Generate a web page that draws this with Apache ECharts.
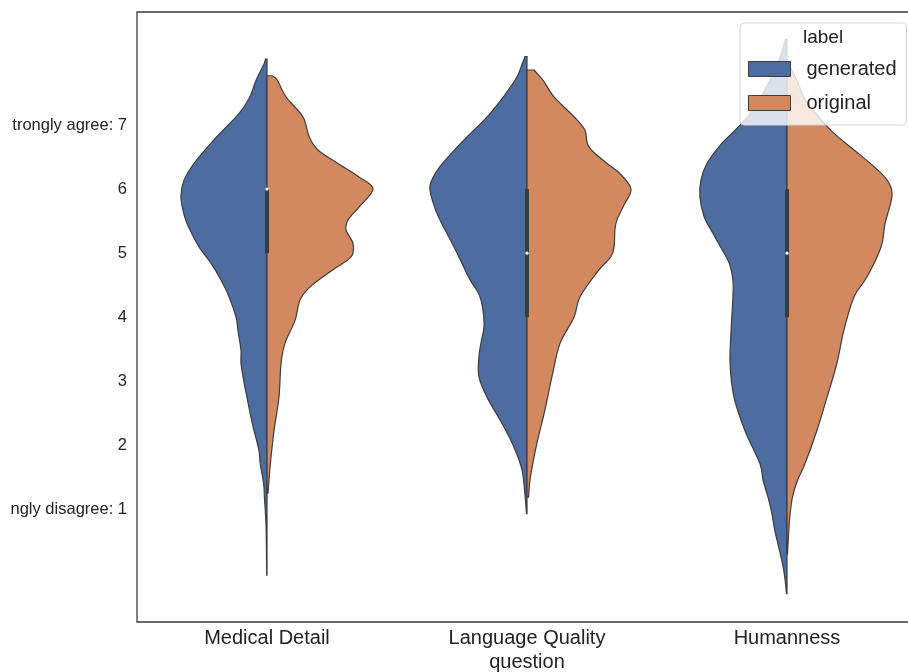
<!DOCTYPE html>
<html>
<head>
<meta charset="utf-8">
<script src="https://cdn.jsdelivr.net/npm/echarts@6/dist/echarts.min.js"></script>
<style>
  html, body { margin: 0; padding: 0; background: #fff; }
  #chart { width: 908px; height: 672px; }
</style>
</head>
<body>
<div id="chart"></div>
<script>
// categories and legend labels
const questions = ['Medical Detail', 'Language Quality', 'Humanness'];
const labels = ['generated', 'original'];

// y ticks (text as it shows in the picture)
const yTickValues = [1, 2, 3, 4, 5, 6, 7];
const yTickText = ['ngly disagree: 1', '2', '3', '4', '5', '6', 'trongly agree: 7'];

// violin halves: [score, half width as share of the category band], top to bottom
const generatedProfiles = [
  [[8.03, 0.006], [7.95, 0.012], [7.70, 0.042], [7.44, 0.066], [7.18, 0.108], [6.77, 0.204], [6.40, 0.281],
   [6.14, 0.319], [5.88, 0.331], [5.57, 0.317], [5.36, 0.296], [5.10, 0.262], [4.84, 0.215], [4.58, 0.177],
   [4.32, 0.146], [4.00, 0.119], [3.80, 0.112], [3.48, 0.100], [3.28, 0.100], [2.97, 0.088], [2.75, 0.077],
   [2.44, 0.062], [2.23, 0.050], [1.92, 0.031], [1.71, 0.026], [1.40, 0.013], [1.19, 0.010], [0.78, 0.004],
   [0.30, 0.002], [-0.03, 0.001]],
  [[8.07, 0.008], [7.95, 0.019], [7.70, 0.046], [7.18, 0.142], [6.77, 0.242], [6.35, 0.335], [6.05, 0.373],
   [5.75, 0.358], [5.52, 0.335], [5.36, 0.315], [5.10, 0.281], [4.84, 0.250], [4.58, 0.219], [4.32, 0.181],
   [3.90, 0.165], [3.60, 0.177], [3.38, 0.185], [3.07, 0.185], [2.75, 0.154], [2.34, 0.096], [1.97, 0.050],
   [1.61, 0.019], [1.19, 0.007], [0.93, 0.002]],
  [[8.34, 0.006], [8.10, 0.023], [7.80, 0.054], [7.50, 0.092], [7.20, 0.138], [6.95, 0.192], [6.70, 0.254],
   [6.40, 0.308], [6.14, 0.331], [5.88, 0.335], [5.57, 0.319], [5.36, 0.292], [5.10, 0.256], [4.84, 0.222],
   [4.58, 0.208], [4.32, 0.208], [3.80, 0.215], [3.28, 0.219], [2.75, 0.204], [2.23, 0.162], [1.71, 0.104],
   [1.45, 0.092], [1.19, 0.073], [0.93, 0.058], [0.67, 0.047], [0.41, 0.032], [0.10, 0.015], [-0.11, 0.007],
   [-0.32, 0.002]]
];
const originalProfiles = [
  [[7.77, 0.020], [7.70, 0.040], [7.44, 0.073], [7.13, 0.138], [6.82, 0.162], [6.61, 0.196], [6.40, 0.273],
   [6.19, 0.354], [6.00, 0.408], [5.72, 0.354], [5.52, 0.312], [5.36, 0.304], [5.15, 0.331], [4.94, 0.323],
   [4.73, 0.250], [4.47, 0.165], [4.27, 0.127], [3.95, 0.108], [3.59, 0.069], [3.28, 0.054], [2.75, 0.046],
   [2.23, 0.027], [1.71, 0.013], [1.25, 0.004]],
  [[7.86, 0.027], [7.70, 0.062], [7.44, 0.104], [7.13, 0.181], [6.92, 0.223], [6.66, 0.238], [6.40, 0.308],
   [6.24, 0.358], [6.00, 0.400], [5.75, 0.373], [5.52, 0.346], [5.36, 0.338], [5.10, 0.335], [4.94, 0.322],
   [4.73, 0.275], [4.32, 0.204], [4.00, 0.181], [3.59, 0.127], [3.07, 0.096], [2.55, 0.069],
   [2.03, 0.038], [1.50, 0.013], [1.19, 0.006]],
  [[7.94, 0.008], [7.70, 0.038], [7.40, 0.069], [7.16, 0.115], [6.87, 0.181], [6.61, 0.258], [6.35, 0.335],
   [6.14, 0.385], [5.90, 0.404], [5.46, 0.377], [5.10, 0.362], [4.63, 0.308], [4.32, 0.258], [3.80, 0.219],
   [3.28, 0.192], [2.75, 0.154], [2.23, 0.115], [1.71, 0.069], [1.45, 0.040], [1.19, 0.021], [0.93, 0.012],
   [0.67, 0.007], [0.30, 0.002]]
];

// inner box: quartiles and medians per question
const boxQ1 = [5, 4, 4];
const boxQ3 = [6, 6, 6];
const medians = [6, 5, 5];

const FONT = 'Liberation Sans, Arial, sans-serif';
const BLUE = '#4d6c9f';
const ORANGE = '#d3895f';
const EDGE = '#3d3d3d';

function fmt(n) { return n.toFixed(2); }

// one half of a violin, outer edge smoothed with catmull-rom curves
function violinHalf(profiles, side, color) {
  return function (params, api) {
    const i = api.value(0);
    const prof = profiles[i];
    const band = api.size([1, 0])[0];
    const cx = api.coord([i, 0])[0];
    const pts = prof.map(function (p) {
      const c = api.coord([i, p[0]]);
      return [cx + side * p[1] * band, c[1]];
    });
    const n = pts.length;
    let d = 'M ' + fmt(cx) + ' ' + fmt(pts[0][1]) + ' L ' + fmt(pts[0][0]) + ' ' + fmt(pts[0][1]);
    for (let k = 0; k < n - 1; k++) {
      const p0 = pts[Math.max(k - 1, 0)];
      const p1 = pts[k];
      const p2 = pts[k + 1];
      const p3 = pts[Math.min(k + 2, n - 1)];
      const c1x = p1[0] + (p2[0] - p0[0]) / 6, c1y = p1[1] + (p2[1] - p0[1]) / 6;
      const c2x = p2[0] - (p3[0] - p1[0]) / 6, c2y = p2[1] - (p3[1] - p1[1]) / 6;
      d += ' C ' + fmt(c1x) + ' ' + fmt(c1y) + ' ' + fmt(c2x) + ' ' + fmt(c2y) + ' ' + fmt(p2[0]) + ' ' + fmt(p2[1]);
    }
    d += ' L ' + fmt(cx) + ' ' + fmt(pts[n - 1][1]) + ' Z';
    return {
      type: 'path',
      shape: { pathData: d },
      style: { fill: color, stroke: EDGE, lineWidth: 1.2 }
    };
  };
}

const chart = echarts.init(document.getElementById('chart'));
chart.setOption({
  animation: false,
  grid: {
    left: 137, top: 12, width: 780, height: 610,
    outerBoundsMode: 'none',
    show: true, borderColor: EDGE, borderWidth: 1.3
  },
  title: {
    text: 'label', left: 803, top: 28, padding: 0,
    textStyle: { fontFamily: FONT, fontSize: 19, fontWeight: 'normal', color: '#222' }
  },
  legend: {
    data: labels,
    orient: 'vertical',
    left: 740, top: 23,
    padding: [36, 10, 12, 8],
    icon: 'rect',
    itemWidth: 42, itemHeight: 15, itemGap: 14,
    backgroundColor: 'rgba(255,255,255,0.8)',
    borderColor: '#d4d4d4', borderWidth: 1, borderRadius: 4,
    itemStyle: { borderColor: EDGE, borderWidth: 1 },
    textStyle: { fontFamily: FONT, fontSize: 20, color: '#222', lineHeight: 15, padding: [0, 0, 0, 11] }
  },
  xAxis: {
    type: 'category',
    data: questions,
    axisLine: { show: false },
    axisTick: { show: false },
    axisLabel: { fontFamily: FONT, fontSize: 20, color: '#222', margin: 6 },
    name: 'question',
    nameLocation: 'middle',
    nameGap: 30,
    nameTextStyle: { fontFamily: FONT, fontSize: 20, color: '#222' }
  },
  yAxis: {
    type: 'value',
    min: -0.761, max: 8.766,
    axisLine: { show: false },
    axisTick: { show: false },
    splitLine: { show: false },
    axisLabel: {
      customValues: yTickValues,
      fontFamily: FONT, fontSize: 16.5, color: '#222', margin: 10,
      formatter: function (v) {
        const k = yTickValues.indexOf(Math.round(v));
        return k >= 0 ? yTickText[k] : '';
      }
    }
  },
  series: [
    {
      name: 'generated', type: 'custom',
      itemStyle: { color: BLUE },
      renderItem: violinHalf(generatedProfiles, -1, BLUE),
      encode: { x: 0, y: 1 },
      data: questions.map(function (q, i) { return [i, medians[i]]; })
    },
    {
      name: 'original', type: 'custom',
      itemStyle: { color: ORANGE },
      renderItem: violinHalf(originalProfiles, 1, ORANGE),
      encode: { x: 0, y: 1 },
      data: questions.map(function (q, i) { return [i, medians[i]]; })
    },
    {
      name: 'box', type: 'custom', z: 3,
      encode: { x: 0, y: 1 },
      renderItem: function (params, api) {
        const i = api.value(0);
        const top = api.coord([i, boxQ3[i]]);
        const bot = api.coord([i, boxQ1[i]]);
        const med = api.coord([i, medians[i]]);
        return {
          type: 'group',
          children: [
            { type: 'rect', shape: { x: top[0] - 2, y: top[1], width: 4, height: bot[1] - top[1] }, style: { fill: EDGE } },
            { type: 'circle', shape: { cx: med[0], cy: med[1], r: 1.6 }, style: { fill: '#fff' } }
          ]
        };
      },
      data: questions.map(function (q, i) { return [i, medians[i]]; })
    }
  ]
});
</script>
</body>
</html>
